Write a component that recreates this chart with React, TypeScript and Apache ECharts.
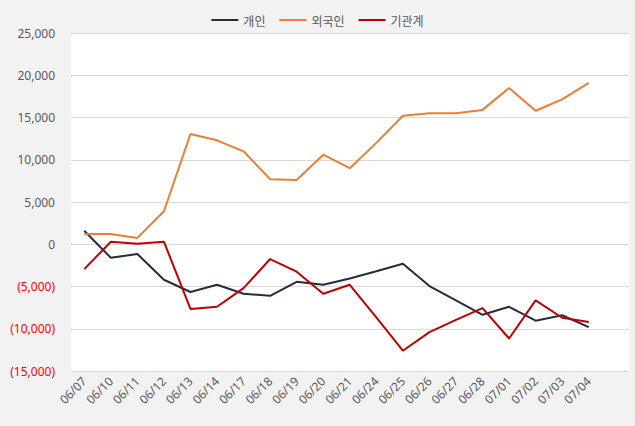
import React, { useEffect, useRef } from "react";
import * as echarts from "echarts";

const categories = ["06/07","06/10","06/11","06/12","06/13","06/14","06/17","06/18","06/19","06/20","06/21","06/24","06/25","06/26","06/27","06/28","07/01","07/02","07/03","07/04"];
const seriesNames = ["개인", "외국인", "기관계"];
const individual = [1600,-1600,-1150,-4200,-5650,-4800,-5850,-6100,-4450,-4800,-4050,-3200,-2300,-4950,-6650,-8350,-7400,-9050,-8400,-9800];
const foreign = [1200,1200,750,3900,13050,12300,11000,7700,7600,10600,9000,12000,15200,15500,15500,15900,18500,15800,17150,19100];
const institution = [-2950,300,50,300,-7650,-7400,-5200,-1750,-3250,-5850,-4800,-8650,-12600,-10400,-8950,-7550,-11150,-6650,-8700,-9200];
const colors = ["#252d3a", "#ed7d31", "#c00000"];
const yMin = -15000, yMax = 25000, yStep = 5000;

const fmt = (v: number) => {
  const s = Math.abs(v).toLocaleString("en-US");
  return v < 0 ? `(${s})` : s;
};

export default function App() {
  const ref = useRef<HTMLDivElement>(null);
  useEffect(() => {
    if (!ref.current) return;
    const chart = echarts.init(ref.current, null, { renderer: "svg" });
    const font = "'Noto Sans CJK KR', 'Noto Sans', sans-serif";
    const numFont = "'Noto Sans', sans-serif";
    const data = [individual, foreign, institution];
    chart.setOption({
      animation: false,
      backgroundColor: "#f2f2f2",
      textStyle: { fontFamily: font },
      legend: {
        top: 9,
        left: "center",
        icon: "rect",
        itemWidth: 27,
        itemHeight: 2,
        itemGap: 14,
        textStyle: { color: "#595959", fontSize: 12, fontFamily: font },
        data: seriesNames,
      },
      grid: [
        { left: 71, right: 6, top: 33, bottom: 55, show: true, backgroundColor: "#ffffff", borderWidth: 0 },
        { left: 71, right: 33, top: 33, bottom: 55 },
      ],
      xAxis: [
        { type: "category", gridIndex: 0, show: false, data: categories },
        {
          type: "category",
          gridIndex: 1,
          data: categories,
          boundaryGap: true,
          axisLine: { show: false },
          axisTick: { show: false },
          axisLabel: { rotate: 45, color: "#595959", fontSize: 12, margin: 8, interval: 0, fontFamily: numFont },
        },
      ],
      yAxis: [
        {
          type: "value",
          gridIndex: 0,
          min: yMin,
          max: yMax,
          interval: yStep,
          axisLine: { show: false },
          axisTick: { show: false },
          splitLine: { lineStyle: { color: "#d9d9d9", width: 1 } },
          axisLabel: {
            margin: 16,
            fontSize: 12,
            fontFamily: numFont,
            formatter: (v: number) => fmt(v),
            color: (v: any) => (Number(v) < 0 ? "#ff0000" : "#595959"),
          },
        },
        { type: "value", gridIndex: 1, min: yMin, max: yMax, interval: yStep, show: false, splitLine: { show: false } },
      ],
      series: seriesNames.map((name, i) => ({
        name,
        type: "line",
        xAxisIndex: 1,
        yAxisIndex: 1,
        data: data[i],
        symbol: "none",
        color: colors[i],
        lineStyle: { color: colors[i], width: 2 },
      })),
    });
    return () => chart.dispose();
  }, []);
  return <div ref={ref} style={{ width: 635, height: 426, position: "absolute", left: 0, top: 0 }} />;
}
